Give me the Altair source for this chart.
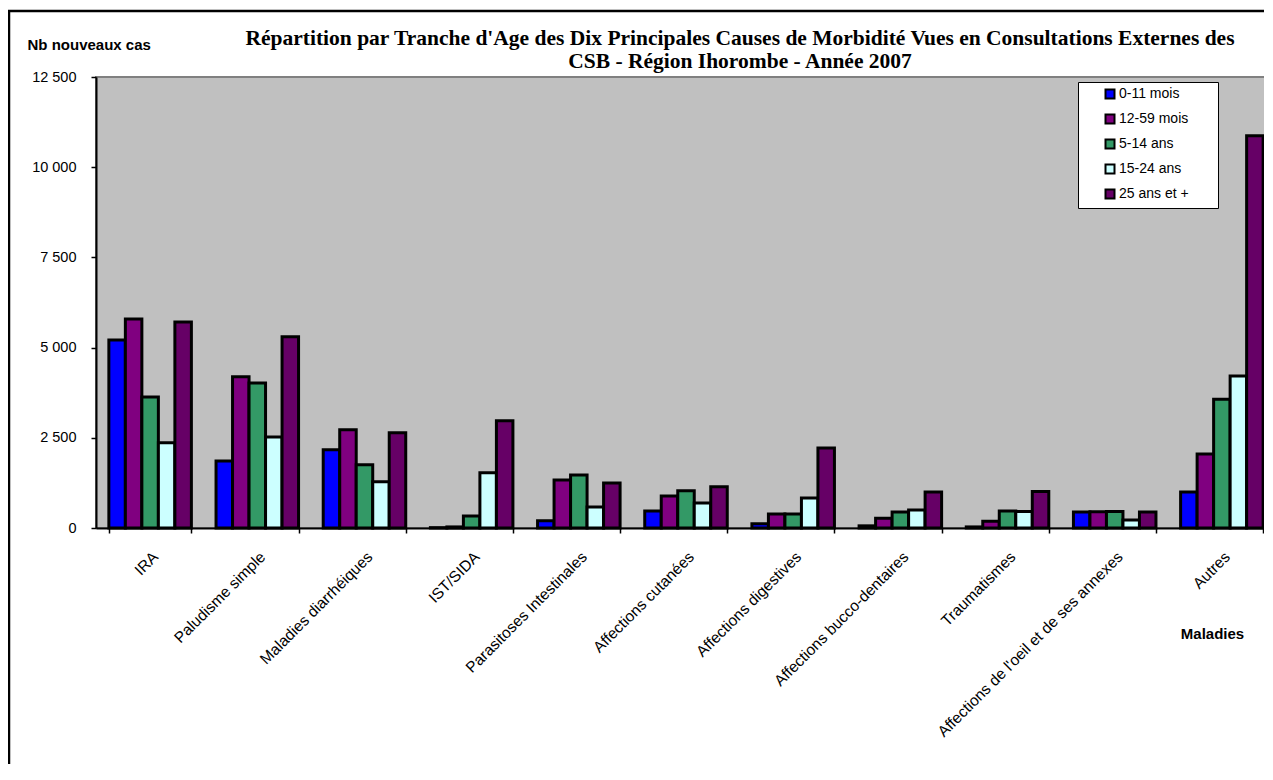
import altair as alt
import pandas as pd

maladies = [
    "IRA", "Paludisme simple", "Maladies diarrhéiques", "IST/SIDA",
    "Parasitoses Intestinales", "Affections cutanées", "Affections digestives",
    "Affections bucco-dentaires", "Traumatismes",
    "Affections de l'oeil et de ses annexes", "Autres",
]
tranches = ["0-11 mois", "12-59 mois", "5-14 ans", "15-24 ans", "25 ans et +"]

v_0_11 = [5210, 1860, 2170, 10, 200, 470, 120, 60, 30, 440, 1000]
v_12_59 = [5790, 4190, 2720, 30, 1330, 890, 390, 270, 190, 450, 2050]
v_5_14 = [3630, 4020, 1750, 330, 1470, 1030, 390, 440, 470, 460, 3570]
v_15_24 = [2360, 2520, 1280, 1530, 580, 690, 830, 500, 460, 220, 4210]
v_25_plus = [5710, 5300, 2640, 2970, 1250, 1140, 2220, 1000, 1010, 440, 10870]

couleurs = ["#0000FF", "#800080", "#339966", "#CCFFFF", "#660066"]

series = [v_0_11, v_12_59, v_5_14, v_15_24, v_25_plus]
rows = []
for t, vals in zip(tranches, series):
    for m, v in zip(maladies, vals):
        rows.append({"Maladie": m, "Tranche": t, "Cas": v})
df = pd.DataFrame(rows)

titre = [
    "Répartition par Tranche d'Age des Dix Principales Causes de Morbidité Vues en Consultations Externes des",
    "CSB - Région Ihorombe - Année 2007",
]

bars = alt.Chart(df).mark_bar(stroke="black", strokeWidth=3).encode(
    x=alt.X(
        "Maladie:N",
        sort=maladies,
        scale=alt.Scale(paddingInner=0.23, paddingOuter=0.12),
        axis=alt.Axis(
            title="Maladies",
            titleFont="Liberation Sans", titleFontSize=15, titleFontWeight="bold",
            titleAngle=0, titleX=1116, titleY=105, titleAlign="center",
            titleBaseline="middle",
            labelAngle=-45, labelAlign="right", labelBaseline="middle",
            labelFont="Liberation Sans", labelFontSize=15.5, labelColor="black",
            labelPadding=21, labelOffset=5, labelLimit=0,
            tickBand="extent", tickSize=5, tickColor="black", tickWidth=1.5,
            domainColor="black", domainWidth=2,
        ),
    ),
    xOffset=alt.XOffset("Tranche:N", sort=tranches,
                        scale=alt.Scale(paddingInner=0, paddingOuter=0)),
    y=alt.Y(
        "Cas:Q",
        scale=alt.Scale(domain=[0, 12500], nice=False),
        axis=alt.Axis(
            title="Nb nouveaux cas",
            titleFont="Liberation Sans", titleFontSize=15, titleFontWeight="bold",
            titleAngle=0, titleX=-69, titleY=-33, titleAlign="left",
            titleBaseline="middle",
            values=[0, 2500, 5000, 7500, 10000, 12500],
            labelExpr="replace(format(datum.value, ','), ',', ' ')",
            labelFont="Liberation Sans", labelFontSize=14.5, labelColor="black",
            labelPadding=15,
            tickSize=5, tickColor="black", tickWidth=1.5,
            domainColor="black", domainWidth=2, grid=False,
        ),
    ),
    color=alt.Color(
        "Tranche:N",
        sort=tranches,
        scale=alt.Scale(domain=tranches, range=couleurs),
        legend=alt.Legend(
            title=" ", titleOrient="right", titlePadding=24,
            orient="none", legendX=982, legendY=5,
            fillColor="white", strokeColor="black", padding=5,
            symbolType="square", symbolSize=81, symbolStrokeColor="black",
            symbolStrokeWidth=2, symbolOffset=20, symbolOpacity=1,
            labelFont="Liberation Sans", labelFontSize=14, labelColor="black",
            labelOffset=2, rowPadding=7,
        ),
    ),
)

cadre = alt.Chart(pd.DataFrame({"k": [0]})).mark_rect(
    fill="white", fillOpacity=0, stroke="black", strokeWidth=2.5
).encode(
    x=alt.value(-87), x2=alt.value(1300), y=alt.value(-66), y2=alt.value(900)
)

chart = alt.layer(bars, cadre).properties(
    width=1180,
    height=451,
    autosize=alt.AutoSizeParams(type="none"),
    padding={"left": 88, "top": 69, "right": -12, "bottom": 236},
    title=alt.Title(
        text=titre, font="Liberation Serif", fontSize=21.5, fontWeight="bold",
        color="black", anchor="middle", frame="group", dx=54, offset=-63,
        lineHeight=23.5,
    ),
).configure_view(
    fill="#C0C0C0", stroke="#808080", strokeWidth=2
)

chart.save("out.html", embed_options={"renderer": "svg", "actions": False})
